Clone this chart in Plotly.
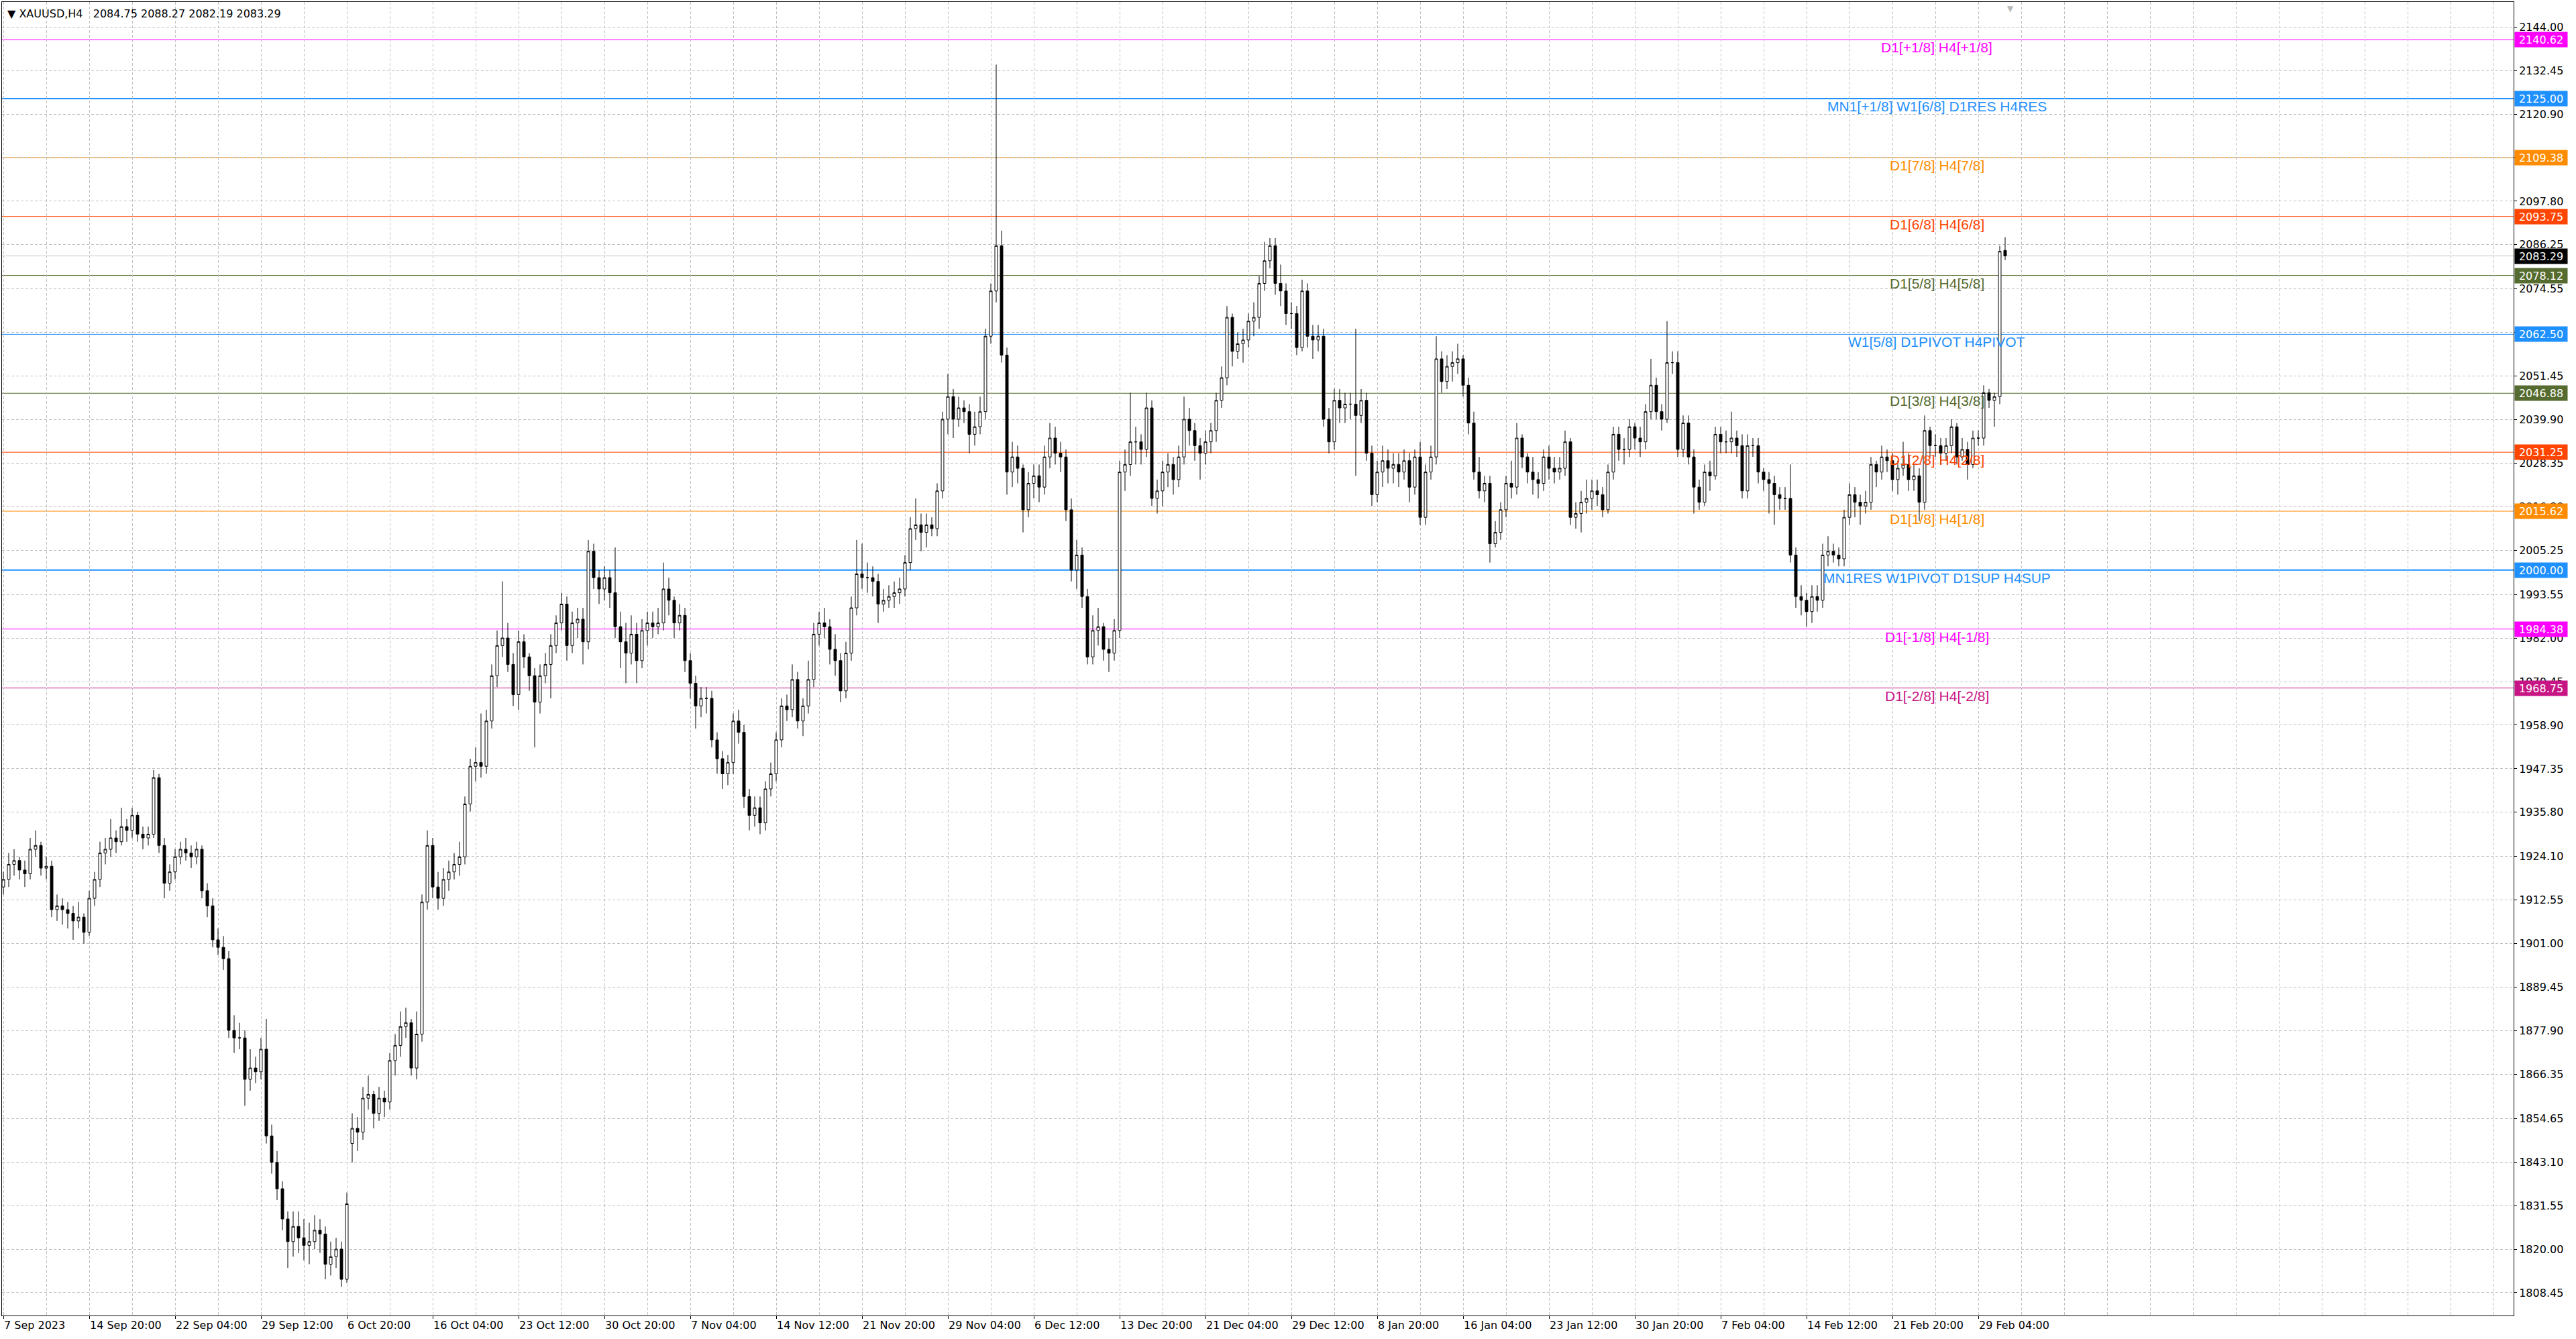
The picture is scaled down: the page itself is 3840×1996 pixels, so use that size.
import plotly.graph_objects as go

# CANDLES (XAUUSD H4, one candle drawn for every two H4 bars) #####################################

bar_index = list(range(0, 747, 2))

opens = [
    1916, 1918, 1922, 1923, 1920.5, 1919.5, 1926, 1927,
    1921, 1921.5, 1910, 1911, 1910, 1909, 1907, 1908,
    1904, 1913, 1918, 1925, 1926, 1929, 1928, 1932,
    1931, 1935, 1930, 1929, 1930, 1945, 1927, 1917,
    1920, 1924, 1926, 1925, 1924, 1926, 1915, 1911,
    1902, 1900, 1897, 1878, 1876, 1876, 1865, 1868,
    1867, 1873, 1850, 1843, 1836, 1828, 1822, 1826,
    1823, 1821, 1822, 1825, 1824, 1816, 1818, 1820,
    1812, 1848, 1852, 1851, 1860, 1861, 1856, 1860,
    1859, 1870, 1874, 1879, 1880, 1868, 1877, 1912,
    1927, 1916, 1913, 1918, 1920, 1922, 1924, 1938,
    1948, 1949, 1948, 1960, 1972, 1980, 1982, 1975,
    1967, 1981, 1977, 1972, 1965, 1972, 1975, 1980,
    1986, 1991, 1980, 1986, 1987, 1981, 2005, 1998,
    1995, 1998, 1994, 1985, 1981, 1978, 1983, 1976,
    1984, 1986, 1985, 1986, 1995, 1992, 1986, 1988,
    1976, 1970, 1964, 1966, 1966, 1955, 1950, 1946,
    1949, 1960, 1957, 1940, 1935, 1937, 1933, 1942,
    1946, 1955, 1964, 1963, 1971, 1960, 1964, 1971,
    1983, 1986, 1985, 1979, 1976, 1968, 1978, 1990,
    1999, 1998, 1998, 1997, 1991, 1992, 1993, 1994,
    1995, 2002, 2011, 2012, 2010, 2012, 2011, 2021,
    2040, 2046, 2040, 2043, 2042, 2036, 2038, 2042,
    2062, 2074, 2086, 2057, 2026, 2030, 2027, 2016,
    2023, 2025, 2022, 2030, 2035, 2031, 2030, 2016,
    2000, 2004, 1993, 1977, 1984, 1985, 1979, 1978,
    1984, 2026, 2028, 2034, 2034, 2032, 2043, 2019,
    2021, 2026, 2028, 2024, 2030, 2040, 2037, 2033,
    2031, 2034, 2037, 2045, 2051, 2067, 2058, 2060,
    2061, 2066, 2067, 2076, 2082, 2086, 2076, 2074,
    2068, 2068, 2059, 2074, 2062, 2061, 2062, 2040,
    2034, 2045, 2043, 2044, 2044, 2041, 2045, 2031,
    2020, 2026, 2029, 2027, 2028, 2026, 2029, 2022,
    2030, 2014, 2026, 2030, 2056, 2050, 2054, 2055,
    2056, 2049, 2039, 2026, 2021, 2023, 2007, 2010,
    2016, 2023, 2022, 2035, 2030, 2026, 2024, 2023,
    2030, 2027, 2026, 2027, 2034, 2014, 2015, 2018,
    2019, 2021, 2020, 2016, 2026, 2036, 2032, 2032,
    2038, 2035, 2034, 2042, 2049, 2042, 2040, 2055,
    2055, 2032, 2039, 2030, 2022, 2018, 2026, 2025,
    2036, 2034, 2034, 2035, 2033, 2021, 2033, 2033,
    2026, 2024, 2023, 2020, 2019, 2019, 2004, 1993,
    1992, 1989, 1993, 1992, 2004, 2005, 2004, 2003,
    2014, 2020, 2018, 2017, 2018, 2028, 2026, 2030,
    2029, 2024, 2027, 2028, 2024, 2025, 2018, 2037,
    2033, 2033, 2031, 2033, 2038, 2030, 2032, 2028,
    2035, 2035, 2047, 2045, 2046, 2084.75,
]

highs = [
    1920, 1925, 1926, 1924, 1923, 1929, 1931, 1928,
    1924, 1923, 1914, 1913, 1912, 1911, 1912, 1909,
    1915, 1920, 1928, 1929, 1934, 1931, 1937, 1934,
    1937, 1936, 1932, 1932, 1947, 1946, 1929, 1922,
    1926, 1928, 1929, 1927, 1928, 1927, 1917, 1913,
    1905, 1903, 1899, 1882, 1880, 1878, 1873, 1871,
    1876, 1881, 1853, 1846, 1838, 1830, 1830, 1830,
    1828, 1827, 1829, 1828, 1826, 1822, 1823, 1822,
    1835, 1856, 1855, 1863, 1866, 1862, 1863, 1862,
    1872, 1877, 1883, 1884, 1881, 1883, 1914, 1931,
    1929, 1920, 1921, 1923, 1925, 1928, 1940, 1950,
    1953, 1962, 1963, 1975, 1984, 1997, 1986, 1978,
    1984, 1983, 1978, 1974, 1975, 1978, 1983, 1988,
    1994, 1993, 1989, 1990, 1990, 2008, 2007, 2000,
    2001, 2000, 2006, 1989, 1986, 1988, 1986, 1987,
    1989, 1989, 1990, 2002, 1998, 1993, 1991, 1990,
    1978, 1972, 1969, 1969, 1968, 1957, 1952, 1951,
    1962, 1963, 1959, 1942, 1940, 1940, 1944, 1949,
    1957, 1966, 1967, 1975, 1973, 1966, 1976, 1986,
    1989, 1990, 1987, 1983, 1978, 1981, 1993, 2008,
    2007, 2002, 2001, 1999, 1995, 1996, 1997, 1998,
    2004, 2014, 2019, 2015, 2015, 2014, 2023, 2042,
    2052, 2048, 2046, 2045, 2044, 2042, 2046, 2064,
    2076, 2134, 2090, 2059, 2034, 2033, 2028, 2026,
    2028, 2028, 2033, 2039, 2038, 2034, 2032, 2019,
    2008, 2006, 1995, 1988, 1990, 1986, 1982, 1987,
    2029, 2032, 2047, 2038, 2036, 2047, 2045, 2024,
    2029, 2031, 2030, 2033, 2046, 2043, 2039, 2035,
    2037, 2039, 2047, 2054, 2070, 2068, 2063, 2064,
    2068, 2071, 2078, 2087, 2088, 2088, 2081, 2076,
    2071, 2070, 2077, 2076, 2065, 2065, 2064, 2043,
    2048, 2048, 2047, 2047, 2064, 2048, 2047, 2033,
    2029, 2033, 2032, 2031, 2031, 2032, 2031, 2032,
    2034, 2028, 2033, 2062, 2058, 2057, 2058, 2060,
    2057, 2051, 2042, 2030, 2025, 2025, 2013, 2018,
    2025, 2029, 2039, 2036, 2031, 2030, 2026, 2032,
    2033, 2030, 2030, 2037, 2035, 2018, 2021, 2024,
    2024, 2024, 2022, 2028, 2038, 2038, 2035, 2040,
    2039, 2038, 2044, 2056, 2051, 2044, 2066, 2058,
    2058, 2041, 2041, 2032, 2024, 2028, 2029, 2038,
    2038, 2037, 2042, 2037, 2036, 2036, 2035, 2035,
    2027, 2026, 2025, 2022, 2022, 2028, 2006, 1996,
    1994, 1996, 1996, 2007, 2009, 2007, 2006, 2016,
    2023, 2022, 2020, 2021, 2030, 2029, 2033, 2032,
    2031, 2029, 2034, 2031, 2028, 2027, 2041, 2038,
    2036, 2035, 2035, 2040, 2039, 2035, 2034, 2037,
    2037, 2049, 2048, 2047, 2086, 2088.27,
]

lows = [
    1914, 1916, 1919, 1918, 1916, 1918, 1924, 1919,
    1918, 1908, 1907, 1906, 1905, 1902, 1905, 1901,
    1903, 1911, 1916, 1922, 1924, 1925, 1927, 1928,
    1929, 1928, 1926, 1927, 1929, 1925, 1913, 1915,
    1918, 1922, 1923, 1921, 1922, 1913, 1908, 1900,
    1898, 1894, 1876, 1872, 1873, 1858, 1862, 1864,
    1865, 1848, 1840, 1833, 1825, 1815, 1818, 1819,
    1817, 1816, 1820, 1819, 1812, 1813, 1815, 1810,
    1811, 1843, 1846, 1849, 1857, 1852, 1854, 1855,
    1857, 1866, 1871, 1876, 1866, 1865, 1875, 1910,
    1913, 1910, 1911, 1915, 1918, 1919, 1922, 1936,
    1944, 1945, 1946, 1958, 1969, 1977, 1973, 1964,
    1963, 1974, 1968, 1953, 1962, 1970, 1966, 1978,
    1984, 1976, 1978, 1982, 1975, 1979, 1995, 1991,
    1992, 1990, 1982, 1974, 1970, 1975, 1970, 1974,
    1980, 1982, 1983, 1984, 1988, 1982, 1984, 1973,
    1966, 1958, 1961, 1962, 1953, 1946, 1942, 1943,
    1946, 1954, 1937, 1931, 1932, 1930, 1931, 1940,
    1944, 1953, 1960, 1961, 1958, 1956, 1962, 1969,
    1980, 1982, 1975, 1972, 1965, 1966, 1976, 1988,
    1995, 1994, 1993, 1986, 1989, 1990, 1990, 1991,
    1993, 2000, 2008, 2005, 2006, 2009, 2009, 2019,
    2036, 2035, 2038, 2039, 2031, 2033, 2036, 2040,
    2060, 2071, 2055, 2020, 2022, 2023, 2010, 2014,
    2019, 2018, 2020, 2027, 2028, 2026, 2013, 1997,
    1995, 1990, 1975, 1975, 1980, 1976, 1973, 1976,
    1982, 2021, 2025, 2028, 2028, 2030, 2017, 2015,
    2017, 2022, 2020, 2022, 2028, 2033, 2029, 2024,
    2028, 2031, 2034, 2043, 2049, 2054, 2056, 2055,
    2059, 2062, 2064, 2074, 2080, 2073, 2070, 2065,
    2064, 2057, 2058, 2059, 2056, 2058, 2038, 2031,
    2032, 2039, 2039, 2040, 2025, 2039, 2029, 2017,
    2018, 2022, 2023, 2023, 2022, 2024, 2018, 2020,
    2012, 2012, 2024, 2028, 2047, 2048, 2050, 2052,
    2046, 2036, 2024, 2019, 2018, 2002, 2006, 2008,
    2014, 2019, 2020, 2027, 2023, 2020, 2019, 2021,
    2024, 2023, 2024, 2025, 2012, 2011, 2010, 2015,
    2016, 2017, 2014, 2015, 2024, 2029, 2028, 2030,
    2032, 2030, 2032, 2040, 2040, 2037, 2039, 2052,
    2030, 2030, 2028, 2015, 2016, 2017, 2021, 2024,
    2031, 2031, 2031, 2030, 2019, 2019, 2030, 2023,
    2021, 2015, 2012, 2016, 2016, 2002, 1990, 1988,
    1985, 1986, 1989, 1990, 2001, 2002, 2001, 2001,
    2012, 2014, 2012, 2015, 2016, 2022, 2024, 2026,
    2021, 2020, 2025, 2021, 2021, 2013, 2016, 2030,
    2030, 2028, 2029, 2031, 2028, 2029, 2024, 2027,
    2033, 2033, 2043, 2038, 2044, 2082.19,
]

closes = [
    1918, 1922, 1923, 1920.5, 1919.5, 1926, 1927, 1921,
    1921.5, 1910, 1911, 1910, 1909, 1907, 1908, 1904,
    1913, 1918, 1925, 1926, 1929, 1928, 1932, 1931,
    1935, 1930, 1929, 1930, 1945, 1927, 1917, 1920,
    1924, 1926, 1925, 1924, 1926, 1915, 1911, 1902,
    1900, 1897, 1878, 1876, 1876, 1865, 1868, 1867,
    1873, 1850, 1843, 1836, 1828, 1822, 1826, 1823,
    1821, 1822, 1825, 1824, 1816, 1818, 1820, 1812,
    1832, 1852, 1851, 1860, 1861, 1856, 1860, 1859,
    1870, 1874, 1879, 1880, 1868, 1877, 1912, 1927,
    1916, 1913, 1918, 1920, 1922, 1924, 1938, 1948,
    1949, 1948, 1960, 1972, 1980, 1982, 1975, 1967,
    1981, 1977, 1972, 1965, 1972, 1975, 1980, 1986,
    1991, 1980, 1986, 1987, 1981, 2005, 1998, 1995,
    1998, 1994, 1985, 1981, 1978, 1983, 1976, 1984,
    1986, 1985, 1986, 1995, 1992, 1986, 1988, 1976,
    1970, 1964, 1966, 1966, 1955, 1950, 1946, 1949,
    1960, 1957, 1940, 1935, 1937, 1933, 1942, 1946,
    1955, 1964, 1963, 1971, 1960, 1964, 1971, 1983,
    1986, 1985, 1979, 1976, 1968, 1978, 1990, 1999,
    1998, 1998, 1997, 1991, 1992, 1993, 1994, 1995,
    2002, 2011, 2012, 2010, 2012, 2011, 2021, 2040,
    2046, 2040, 2043, 2042, 2036, 2038, 2042, 2062,
    2074, 2086, 2057, 2026, 2030, 2027, 2016, 2023,
    2025, 2022, 2030, 2035, 2031, 2030, 2016, 2000,
    2004, 1993, 1977, 1984, 1985, 1979, 1978, 1984,
    2026, 2028, 2034, 2034, 2032, 2043, 2019, 2021,
    2026, 2028, 2024, 2030, 2040, 2037, 2033, 2031,
    2034, 2037, 2045, 2051, 2067, 2058, 2060, 2061,
    2066, 2067, 2076, 2082, 2086, 2076, 2074, 2068,
    2068, 2059, 2074, 2062, 2061, 2062, 2040, 2034,
    2045, 2043, 2044, 2044, 2041, 2045, 2031, 2020,
    2026, 2029, 2027, 2028, 2026, 2029, 2022, 2030,
    2014, 2026, 2030, 2056, 2050, 2054, 2055, 2056,
    2049, 2039, 2026, 2021, 2023, 2007, 2010, 2016,
    2023, 2022, 2035, 2030, 2026, 2024, 2023, 2030,
    2027, 2026, 2027, 2034, 2014, 2015, 2018, 2019,
    2021, 2020, 2016, 2026, 2036, 2032, 2032, 2038,
    2035, 2034, 2042, 2049, 2042, 2040, 2055, 2055,
    2032, 2039, 2030, 2022, 2018, 2026, 2025, 2036,
    2034, 2034, 2035, 2033, 2021, 2033, 2033, 2026,
    2024, 2023, 2020, 2019, 2019, 2004, 1993, 1992,
    1989, 1993, 1992, 2004, 2005, 2004, 2003, 2014,
    2020, 2018, 2017, 2018, 2028, 2026, 2030, 2029,
    2024, 2027, 2028, 2024, 2025, 2018, 2037, 2033,
    2033, 2031, 2033, 2038, 2030, 2032, 2028, 2035,
    2035, 2047, 2045, 2046, 2084.5, 2083.29,
]

# AXES ############################################################################################

tick_bars = [0, 32, 64, 96, 128, 160, 192, 224, 256, 288, 320, 352,
             384, 416, 448, 480, 512, 544, 576, 608, 640, 672, 704, 736]
tick_labels = ["7 Sep 2023", "14 Sep 20:00", "22 Sep 04:00", "29 Sep 12:00", "6 Oct 20:00",
               "16 Oct 04:00", "23 Oct 12:00", "30 Oct 20:00", "7 Nov 04:00", "14 Nov 12:00",
               "21 Nov 20:00", "29 Nov 04:00", "6 Dec 12:00", "13 Dec 20:00", "21 Dec 04:00",
               "29 Dec 12:00", "8 Jan 20:00", "16 Jan 04:00", "23 Jan 12:00", "30 Jan 20:00",
               "7 Feb 04:00", "14 Feb 12:00", "21 Feb 20:00", "29 Feb 04:00"]

price_ticks = [2144.00, 2132.45, 2120.90, 2109.35, 2097.80, 2086.25, 2074.55, 2063.00, 2051.45,
               2039.90, 2028.35, 2016.80, 2005.25, 1993.55, 1982.00, 1970.45, 1958.90, 1947.35,
               1935.80, 1924.10, 1912.55, 1901.00, 1889.45, 1877.90, 1866.35, 1854.65, 1843.10,
               1831.55, 1820.00, 1808.45]

# LEVELS (murrey math / pivot objects) ############################################################

level_prices = [2140.62, 2125.00, 2109.38, 2093.75, 2078.12, 2062.50,
                2046.88, 2031.25, 2015.62, 2000.00, 1984.38, 1968.75]
level_names = ["D1[+1/8] H4[+1/8]", "MN1[+1/8] W1[6/8] D1RES H4RES", "D1[7/8] H4[7/8]",
               "D1[6/8] H4[6/8]", "D1[5/8] H4[5/8]", "W1[5/8] D1PIVOT H4PIVOT",
               "D1[3/8] H4[3/8]", "D1[2/8] H4[2/8]", "D1[1/8] H4[1/8]",
               "MN1RES W1PIVOT D1SUP H4SUP", "D1[-1/8] H4[-1/8]", "D1[-2/8] H4[-2/8]"]
last_price = 2083.29
header_text = "XAUUSD,H4\u00a0\u00a0 2084.75 2088.27 2082.19 2083.29"

# styles
level_colors = ["#FF00FF", "#1E90FF", "#FF8C00", "#FF4500", "#556B2F", "#1E90FF",
                "#556B2F", "#FF4500", "#FF8C00", "#1E90FF", "#FF00FF", "#C71585"]
level_widths = [1, 2, 1, 1, 1, 1, 1, 1, 1, 2, 1, 1]
GRID = "#C0C0C0"
GRID_DASH = "4px,3px"
AXIS_FONT = dict(family="DejaVu Sans", size=16, color="black")
LABEL_X = 720.5

# FIGURE ##########################################################################################

fig = go.Figure()

fig.add_trace(go.Candlestick(
    x=bar_index, open=opens, high=highs, low=lows, close=closes,
    increasing=dict(line=dict(color="black", width=1), fillcolor="white"),
    decreasing=dict(line=dict(color="black", width=1), fillcolor="black"),
    whiskerwidth=0, hoverinfo="skip",
))

# horizontal level lines, drawn behind the candles
for price, color, width in zip(level_prices, level_colors, level_widths):
    fig.add_shape(type="line", xref="paper", x0=0, x1=1, yref="y", y0=price, y1=price,
                  line=dict(color=color, width=width), layer="between")
fig.add_shape(type="line", xref="paper", x0=0, x1=1, yref="y", y0=last_price, y1=last_price,
              line=dict(color="#C0C0C0", width=1), layer="between")

annotations = []

# level names under each line
for price, name, color in zip(level_prices, level_names, level_colors):
    annotations.append(dict(x=LABEL_X, y=price, xref="x", yref="y", text=name, showarrow=False,
                            xanchor="center", yanchor="top", yshift=2,
                            font=dict(family="Liberation Sans", size=21, color=color)))

# price boxes on the right scale
for price, color in zip(level_prices + [last_price], level_colors + ["black"]):
    annotations.append(dict(x=1, y=price, xref="paper", yref="y", text=f"{price:.2f}",
                            showarrow=False, xanchor="left", yanchor="middle", xshift=1,
                            bgcolor=color, width=76, height=20, borderpad=1, align="center",
                            font=dict(family="DejaVu Sans", size=16, color="white")))

# chart header
annotations.append(dict(x=0, y=1, xref="paper", yref="paper", text="\u25bc " + header_text,
                        showarrow=False, xanchor="left", yanchor="top", xshift=6, yshift=-6,
                        font=AXIS_FONT))

# chart shift marker
annotations.append(dict(x=748, y=1, xref="x", yref="paper", text="\u25bc", showarrow=False,
                        xanchor="center", yanchor="top", yshift=-1,
                        font=dict(family="DejaVu Sans", size=12, color="#B8B8B8")))

minor_bars = [b for b in range(16, 936, 16) if b not in tick_bars]

fig.update_layout(
    width=3840, height=1996,
    margin=dict(l=3, r=93, t=3, b=35),
    paper_bgcolor="white", plot_bgcolor="white",
    showlegend=False, hovermode=False,
    font=AXIS_FONT,
    annotations=annotations,
    xaxis=dict(range=[-0.5, 935.5], tickmode="array", tickvals=tick_bars, ticktext=tick_labels,
               ticklabelposition="outside right", ticks="outside", ticklen=4, tickcolor="black",
               tickfont=AXIS_FONT, showgrid=True, gridcolor=GRID, griddash=GRID_DASH, gridwidth=1,
               minor=dict(tickmode="array", tickvals=minor_bars, showgrid=True, gridcolor=GRID,
                          griddash=GRID_DASH, gridwidth=1, ticks=""),
               showline=True, linecolor="black", linewidth=1, mirror=True, zeroline=False,
               rangeslider=dict(visible=False), fixedrange=True),
    yaxis=dict(side="right", range=[1802.4, 2150.6], tickmode="array", tickvals=price_ticks,
               ticktext=[f"{v:.2f}" for v in price_ticks], ticks="outside", ticklen=4,
               tickcolor="black", tickfont=AXIS_FONT, showgrid=True, gridcolor=GRID,
               griddash=GRID_DASH, gridwidth=1, showline=True, linecolor="black", linewidth=1,
               mirror=True, zeroline=False, fixedrange=True),
)

fig.write_html("out.html", config={"displayModeBar": False},
               post_script="document.body.style.margin='0';document.body.style.overflow='hidden';")
